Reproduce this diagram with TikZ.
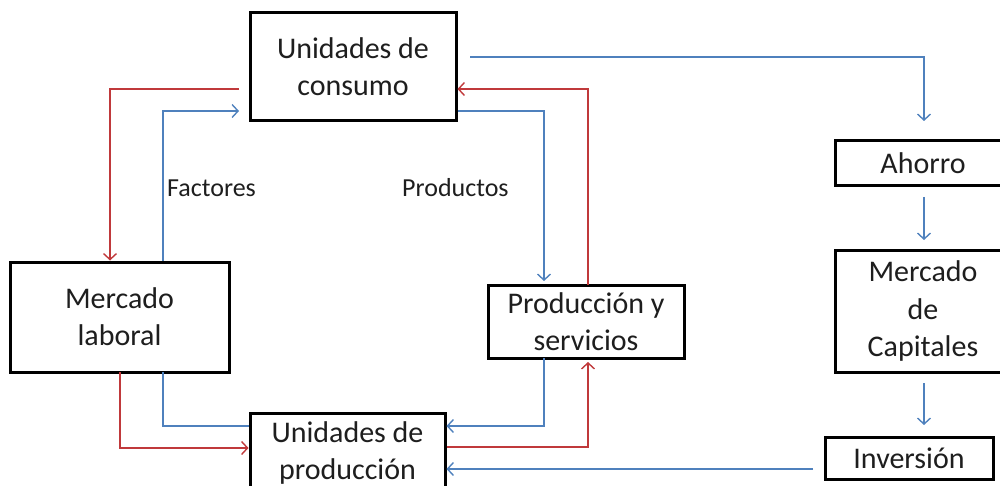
\documentclass[tikz,border=0pt]{standalone}
\usepackage{fontspec}
\setmainfont{Carlito}
\usetikzlibrary{arrows.meta}
\definecolor{flowblue}{HTML}{4F81BD}
\definecolor{flowred}{HTML}{C0393B}
\definecolor{txt}{HTML}{1E1E1E}
\begin{document}
\begin{tikzpicture}[x=1pt,y=-1pt,
  box/.style={draw=black,line width=3pt,fill=white,text=txt,align=center,
    font=\fontsize{30}{37}\selectfont,inner sep=0pt},
  lbl/.style={text=txt,font=\fontsize{26}{30}\selectfont,inner sep=0pt},
  bl/.style={draw=flowblue,line width=1.4pt},
  rd/.style={draw=flowred,line width=1.4pt},
  tip/.style={-{Straight Barb[length=6pt,width=13pt,line width=1.4pt]}}]
\useasboundingbox (0,0) rectangle (1000,486);
% boxes
\node[box,minimum width=206pt,minimum height=108pt] (cons) at (353,67) {Unidades de\\consumo};
\node[box,minimum width=219pt,minimum height=110pt] (lab) at (119.5,317) {Mercado\\laboral};
\node[box,minimum width=196pt,minimum height=73pt] (serv) at (586,321.5) {Producción y\\servicios};
\node[box,minimum width=195pt,minimum height=90pt,text depth=14pt] (prod) at (347.5,458) {Unidades de\\producción};
\node[box,minimum width=176pt,minimum height=45pt] (aho) at (923,163.5) {Ahorro};
\node[box,minimum width=176pt,minimum height=122pt] (cap) at (923,311) {Mercado\\de\\Capitales};
\node[box,minimum width=168pt,minimum height=42pt] (inv) at (909,458) {Inversión};
% labels
\node[lbl,anchor=west] (fac) at (167,188) {Factores};
\node[lbl,anchor=west] (pro) at (402,188) {Productos};
% coordinates
\coordinate (c1) at (470,57);
\coordinate (c2) at (924,57);
\coordinate (r1) at (239,89);
\coordinate (r1b) at (110,89);
\coordinate (f1) at (163,111);
\coordinate (f2) at (239,111);
\coordinate (p1) at (544,111);
\coordinate (r2) at (588,89);
\coordinate (inv1) at (813,469);
% blue savings path
\path[bl,tip] (c1) -- (c2) -- (924,121);
\path[bl,tip] (924,197) -- (924,240);
\path[bl,tip] (924,383) -- (924,425);
\path[bl,tip] (inv1) -- (prod.east |- inv1);
% consumo -> laboral (red)
\path[rd,tip] (r1) -- (r1b) -- (r1b |- lab.north);
% laboral -> consumo (blue, Factores)
\path[bl,tip] (f1 |- lab.north) -- (f1) -- (f2);
% laboral -> produccion
\path[rd,tip] (120,372) -- (120,448) -- (prod.west |- 0,448);
\path[bl] (163,372) -- (163,426) -- (prod.west |- 0,426);
% servicios -> produccion (blue)
\path[bl,tip] (544,358) -- (544,426) -- (prod.east |- 0,426);
% produccion -> servicios (red)
\path[rd,tip] (prod.east |- 0,447) -- (588,447) -- (588,362);
% servicios -> consumo (red)
\path[rd,tip] (588,285) -- (r2) -- (cons.east |- r2);
% consumo -> servicios (blue, Productos)
\path[bl,tip] (cons.east |- p1) -- (p1) -- (544,281);
\end{tikzpicture}
\end{document}
